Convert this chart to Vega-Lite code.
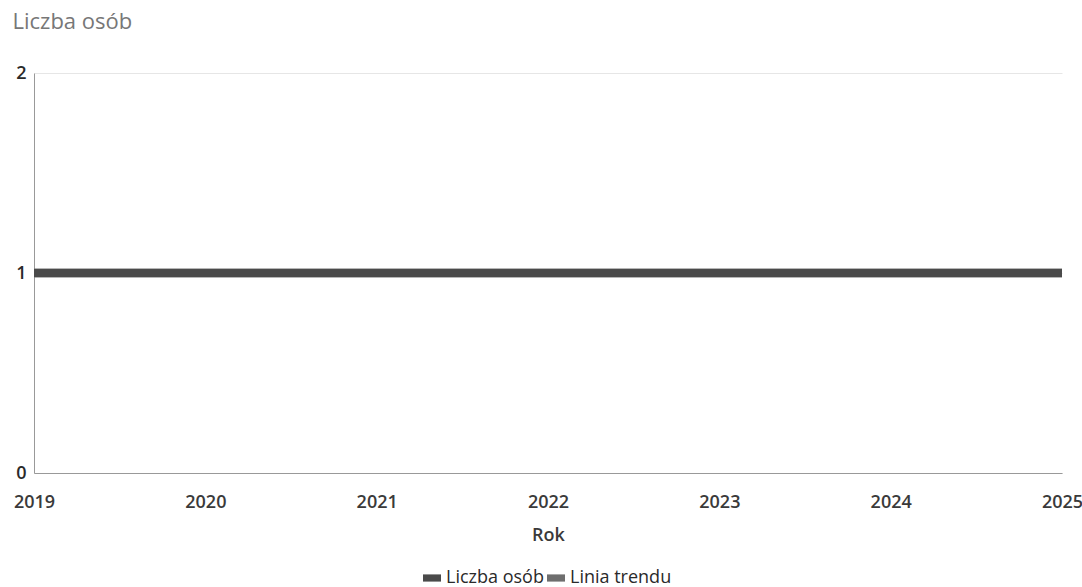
{
  "$schema": "https://vega.github.io/schema/vega-lite/v6.json",
  "width": 1028,
  "height": 400,
  "autosize": {"type": "none"},
  "padding": {"left": 34, "top": 73, "right": 20, "bottom": 114},
  "background": "white",
  "config": {
    "view": {"stroke": null},
    "font": "Open Sans"
  },
  "data": {
    "values": [
      {"rok": 2019, "wartosc": 1, "seria": "Liczba osób"},
      {"rok": 2020, "wartosc": 1, "seria": "Liczba osób"},
      {"rok": 2021, "wartosc": 1, "seria": "Liczba osób"},
      {"rok": 2022, "wartosc": 1, "seria": "Liczba osób"},
      {"rok": 2023, "wartosc": 1, "seria": "Liczba osób"},
      {"rok": 2024, "wartosc": 1, "seria": "Liczba osób"},
      {"rok": 2025, "wartosc": 1, "seria": "Liczba osób"},
      {"rok": 2019, "wartosc": 1, "seria": "Linia trendu"},
      {"rok": 2020, "wartosc": 1, "seria": "Linia trendu"},
      {"rok": 2021, "wartosc": 1, "seria": "Linia trendu"},
      {"rok": 2022, "wartosc": 1, "seria": "Linia trendu"},
      {"rok": 2023, "wartosc": 1, "seria": "Linia trendu"},
      {"rok": 2024, "wartosc": 1, "seria": "Linia trendu"},
      {"rok": 2025, "wartosc": 1, "seria": "Linia trendu"}
    ]
  },
  "encoding": {
    "x": {
      "field": "rok",
      "type": "quantitative",
      "scale": {"domain": [2019, 2025], "nice": false, "zero": false},
      "axis": {
        "title": "Rok",
        "format": "d",
        "values": [2019, 2020, 2021, 2022, 2023, 2024, 2025],
        "grid": false,
        "ticks": false,
        "domainColor": "#999999",
        "domainWidth": 1,
        "labelFontSize": 18,
        "labelFontWeight": 600,
        "labelColor": "#3a3a3a",
        "labelPadding": 20,
        "labelFlush": false,
        "labelOverlap": false,
        "titleFontSize": 18,
        "titleFontWeight": 600,
        "titleColor": "#3a3a3a",
        "titlePadding": 15
      }
    },
    "y": {
      "field": "wartosc",
      "type": "quantitative",
      "scale": {"domain": [0, 2], "nice": false},
      "axis": {
        "title": "Liczba osób",
        "titleAngle": 0,
        "titleAlign": "left",
        "titleBaseline": "middle",
        "titleX": -22,
        "titleY": -52,
        "titleFontSize": 22,
        "titleFontWeight": "normal",
        "titleColor": "#777777",
        "tickCount": 2,
        "labelExpr": "format(datum.value, 'd')",
        "ticks": false,
        "grid": true,
        "gridColor": "#e6e6e6",
        "domainColor": "#999999",
        "labelFontSize": 18,
        "labelFontWeight": 600,
        "labelColor": "#2a2a2a",
        "labelPadding": 8,
        "labelFlush": false,
        "labelOverlap": false,
        "labelBaseline": "middle"
      }
    },
    "color": {
      "field": "seria",
      "type": "nominal",
      "scale": {"domain": ["Liczba osób", "Linia trendu"], "range": ["#4a4a4a", "#6e6e6e"]},
      "legend": {
        "title": null,
        "orient": "none",
        "legendX": 389,
        "legendY": 496,
        "direction": "horizontal",
        "symbolType": "M-1,-0.4H1V0.4H-1Z",
        "symbolSize": 324,
        "symbolStrokeWidth": 0,
        "labelFontSize": 18,
        "labelColor": "#2a2a2a",
        "labelOffset": 5,
        "columnPadding": 3,
        "encode": {
          "symbols": {
            "update": {
              "fill": {"scale": "color", "field": "value"},
              "opacity": {"value": 1}
            }
          }
        }
      }
    }
  },
  "layer": [
    {
      "transform": [{"filter": "datum.seria === 'Linia trendu'"}],
      "mark": {"type": "line", "strokeWidth": 9, "strokeCap": "butt"}
    },
    {
      "transform": [{"filter": "datum.seria === 'Liczba osób'"}],
      "mark": {"type": "line", "strokeWidth": 8, "strokeCap": "butt"}
    }
  ]
}
